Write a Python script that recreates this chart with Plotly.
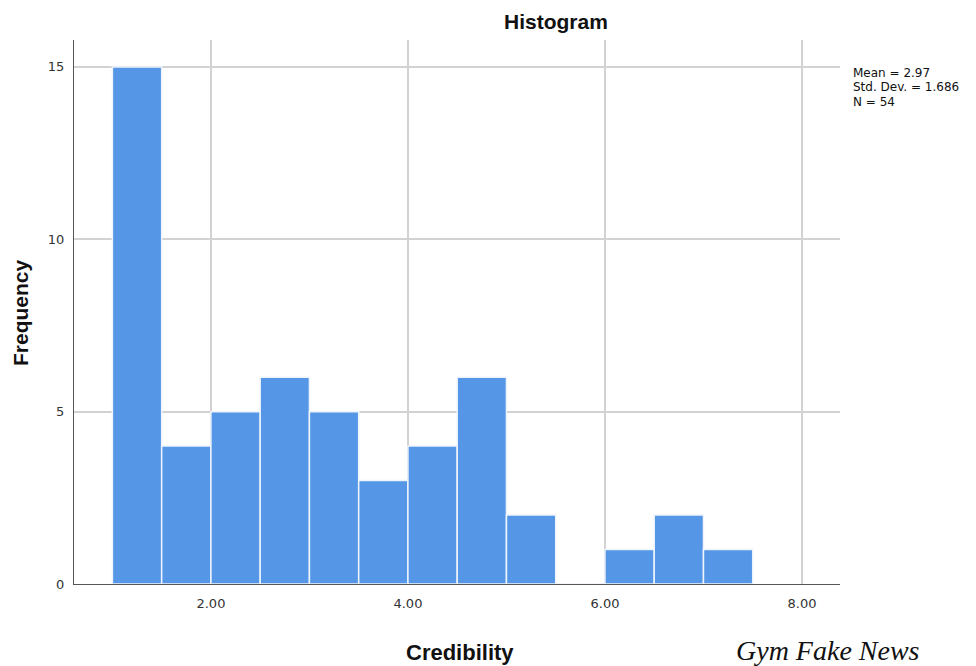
import plotly.graph_objects as go

bin_starts = [1.0, 1.5, 2.0, 2.5, 3.0, 3.5, 4.0, 4.5, 5.0, 5.5, 6.0, 6.5, 7.0]
counts = [15, 4, 5, 6, 5, 3, 4, 6, 2, 0, 1, 2, 1]
bin_width = 0.5
x_ticks = [2, 4, 6, 8]
x_tick_labels = ["2.00", "4.00", "6.00", "8.00"]
y_ticks = [0, 5, 10, 15]
stats_lines = ["Mean = 2.97", "Std. Dev. = 1.686", "N = 54"]

centers = [s + bin_width / 2 for s in bin_starts]

# page has an 8px body margin; compensate so the figure lands at the target pixels
OFF = 8
L, T, R, B = 74 - OFF, 40 - OFF, 840 - OFF, 584 - OFF
W, H = 976, 666
pw, ph = R - L, B - T


def px(x):
    return (x - OFF - L) / pw


def py(y):
    return (B - (y - OFF)) / ph


fig = go.Figure()
fig.add_trace(go.Bar(
    x=centers, y=counts, width=bin_width,
    marker=dict(color="#5596e6", line=dict(color="#eef4fc", width=1.5)),
    hoverinfo="x+y",
))

bold_font = "Liberation Sans, Arial, Helvetica, sans-serif"
annotations = [
    dict(text="<b>Histogram</b>", x=px(556), y=py(21), xanchor="center", yanchor="middle",
         font=dict(size=21, color="#111", family=bold_font)),
    dict(text="<b>Credibility</b>", x=px(460), y=py(652), xanchor="center", yanchor="middle",
         font=dict(size=22, color="#111", family=bold_font)),
    dict(text="<b>Frequency</b>", x=px(20), y=py(312), textangle=-90, xanchor="center",
         yanchor="middle", font=dict(size=21, color="#111", family=bold_font)),
    dict(text="<i>Gym Fake News</i>", x=px(828), y=py(650), xanchor="center", yanchor="middle",
         font=dict(size=28, color="#111", family="Liberation Serif, Times New Roman, serif")),
]
for i, line in enumerate(stats_lines):
    annotations.append(dict(text=line, x=px(851), y=py(73 + 14.5 * i), xanchor="left",
                            yanchor="middle", font=dict(size=12, color="#111",
                                                        family="DejaVu Sans, sans-serif")))
for a in annotations:
    a.update(xref="paper", yref="paper", showarrow=False)

fig.update_layout(
    width=W, height=H,
    margin=dict(l=L, r=W - R, t=T, b=H - B, autoexpand=False),
    plot_bgcolor="white", paper_bgcolor="white",
    showlegend=False,
    font=dict(family="DejaVu Sans, sans-serif", color="#222"),
    xaxis=dict(
        range=[0.61, 8.386], tickvals=x_ticks, ticktext=x_tick_labels,
        showgrid=True, gridcolor="#d2d2d2", gridwidth=1.5,
        showline=True, linecolor="#555", linewidth=1.2,
        ticks="", tickfont=dict(size=13, color="#333"),
        zeroline=False, ticklabelstandoff=7,
    ),
    yaxis=dict(
        range=[0, 15.78], tickvals=y_ticks,
        showgrid=True, gridcolor="#d2d2d2", gridwidth=1.5,
        showline=True, linecolor="#555", linewidth=1.2,
        ticks="", tickfont=dict(size=13, color="#333"),
        zeroline=False, ticklabelstandoff=6,
    ),
    annotations=annotations,
)

fig.write_html("out.html")
